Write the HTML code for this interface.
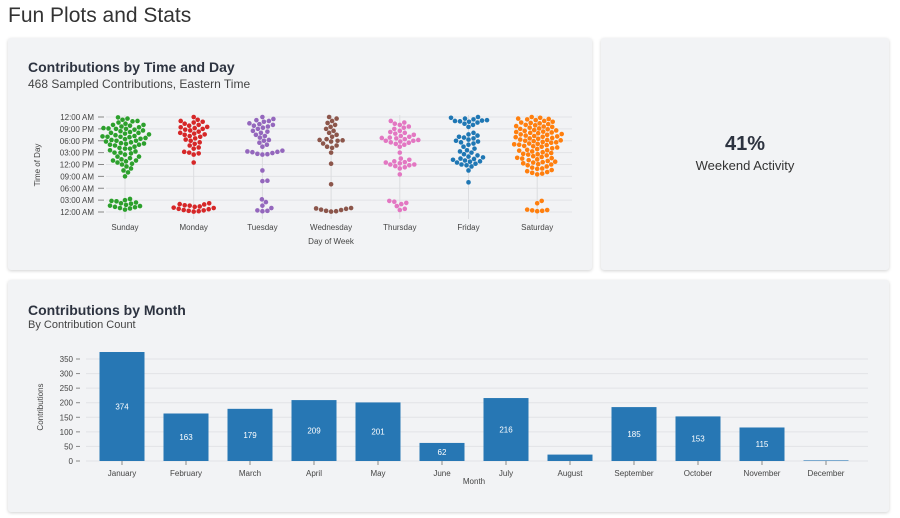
<!DOCTYPE html>
<html><head><meta charset="utf-8"><style>
body{margin:0;width:900px;height:518px;background:#fff;font-family:"Liberation Sans",sans-serif;position:relative;overflow:hidden}
.card{position:absolute;background:#f2f3f5;border-radius:3px;box-shadow:0 1px 3px rgba(0,0,0,.18)}
h1{position:absolute;left:8px;top:4px;margin:0;font-weight:normal;font-size:21px;color:#333}
.t{position:absolute;font-weight:bold;font-size:14px;color:#2d3340}
.s{position:absolute;font-size:12px;color:#444}
svg{position:absolute;left:0;top:0}
text{font-family:"Liberation Sans",sans-serif}
</style></head><body>
<h1>Fun Plots and Stats</h1>
<div class="card" style="left:8px;top:38px;width:584px;height:232px"></div>
<div class="card" style="left:601px;top:38px;width:288px;height:232px"></div>
<div class="card" style="left:8px;top:280px;width:881px;height:232px"></div>
<div class="t" style="left:28px;top:59px">Contributions by Time and Day</div>
<div class="s" style="left:28px;top:77px">468 Sampled Contributions, Eastern Time</div>
<div style="position:absolute;left:601px;width:288px;top:133px;text-align:center;font-weight:bold;font-size:20px;color:#2d3340">41%</div>
<div style="position:absolute;left:601px;width:288px;top:158px;text-align:center;font-size:13px;color:#333">Weekend Activity</div>
<div class="t" style="left:28px;top:302px">Contributions by Month</div>
<div class="s" style="left:28px;top:319px;font-size:11px">By Contribution Count</div>
<svg id="sv" width="900" height="518"></svg>
<script>
const days=["Sunday","Monday","Tuesday","Wednesday","Thursday","Friday","Saturday"];
const dayColors=["#2ca02c","#d62728","#9467bd","#8c564b","#e377c2","#1f77b4","#ff7f0e"];
const timeTicks=["12:00 AM","03:00 AM","06:00 AM","09:00 AM","12:00 PM","03:00 PM","06:00 PM","09:00 PM","12:00 AM"];
const sun=[0.6,0.9,1.2,1.5,1.8,2.1,2.4,2.7,3,3.3,1,1.6,2.2,2.8,1.3,9,10,10.5,11,11.5,12,12.2,12.5,13,13,13.3,13.6,14,14,14.5,15,15,15.3,15.6,16,16,16.2,16.5,16.8,17,17,17.2,17.4,17.6,17.8,18,18,18.2,18.4,18.5,18.7,18.9,19,19,19.2,19.4,19.6,19.8,20,20,20.2,20.4,20.6,20.8,21,21,21.2,21.4,21.6,21.8,22,22,22.3,22.6,22.9,23,23.3,23.6,23.9,17.3,19.1,21.1,12.8,14.8];
const mon=[0.1,0.4,0.7,1,1.3,1.6,1.9,2.2,0.2,0.8,1.4,2,0.5,1.1,1.7,0.3,12.5,14.5,14.8,15,15.2,16,16.3,16.8,17.2,17.6,18,18.3,18.6,19,19.2,19.5,19.8,20,20.3,20.6,21,21.2,21.5,21.8,22,22.3,22.6,23,23.3,24,20.8,21.4,22.8,19.6];
const tue=[0.2,0.3,0.4,1,1.6,2.5,3.2,7.8,7.9,10.5,14.5,14.7,14.9,15.1,15.3,15.5,14.6,15.2,16.5,17,17.5,18,18.2,18.8,19.5,20,20.5,21,21.3,21.6,22,22.4,22.8,23,23.2,23.5,24,22.2,21.8,20.3,19.2];
const wed=[0.2,0.3,0.6,0.9,1,0.1,0.5,0.8,7,12.2,15,16.2,16.5,16.8,17.3,17.8,18,18.1,18.2,18.4,19,19.5,20,20.5,21,21.5,22,22.5,23,23.6,24];
const thu=[0.5,0.8,1.5,2,2.3,2.6,2.8,9.5,11,11.3,11.6,12,12,12.3,12.6,12.8,13.2,13.5,11.8,12.5,15,16.5,17,17.2,17.5,17.8,18,18,18.2,18.4,18.6,18.8,19,19.2,19.5,20,20.2,20.5,21,21.3,21.6,22,22.3,22.6,23,19.8,18.7,17.6];
const fri=[7.5,10.5,11.5,11.8,12,12.2,12.5,12.8,13,13.2,13.5,13.8,14,14.3,14.6,15,15.3,15.6,16,13.4,12.7,17,17.3,17.6,18,18.3,18.6,19,19.3,19.6,20,17.8,18.8,16.5,21.5,22,22.3,22.6,22.8,23,23.2,23.4,23.6,23.8,24,23.1,22.9];
const sat=[0.2,0.3,0.4,0.5,0.6,2.2,2.8,9.5,9.7,9.9,10.1,10.3,10.6,10.9,11.2,11.5,11.8,12,12.1,12.3,12.5,12.7,12.9,13.1,13.3,13.5,13.7,13.9,14.1,14.3,14.5,14.7,14.9,15.1,15.3,15.5,15.7,15.9,16.1,16.3,16.5,16.7,16.9,17,17.1,17.3,17.5,17.7,17.9,18,18.1,18.3,18.5,18.7,18.9,19,19.1,19.3,19.5,19.7,19.9,20,20.1,20.3,20.5,20.7,20.9,21,21.1,21.3,21.5,21.7,21.9,22,22.2,22.4,22.6,22.8,23,23.2,23.4,23.6,23.8,24,17.2,18.2,19.2,20.2,16.6,17.6,18.6,19.6,20.6,21.6,11,12.6,13.6,14.6,15.6,22.5,23.5];
const dayValues=[sun,mon,tue,wed,thu,fri,sat];
const months=["January","February","March","April","May","June","July","August","September","October","November","December"];
const monthCounts=[374,163,179,209,201,62,216,22,185,153,115,2];
const countTicks=[0,50,100,150,200,250,300,350];

const sv=document.getElementById('sv');
function mk(tag,attrs,txt){const e=document.createElementNS("http://www.w3.org/2000/svg",tag);for(const k in attrs)e.setAttribute(k,attrs[k]);if(txt!=null)e.textContent=txt;sv.appendChild(e);return e;}
const yT=h=>212-h*95/24;
const xD=i=>125+i*68.7;
timeTicks.forEach((t,i)=>{const y=yT(i*3);
 const g=mk('line',{x1:106,x2:572,y1:y,y2:y,stroke:'#e2e3e6'});
 mk('line',{x1:98,x2:104,y1:y,y2:y,stroke:'#888'});
 const l=mk('text',{x:94,y:y+3,'text-anchor':'end','font-size':8,fill:'#444'},t);});
days.forEach((d,i)=>{const x=xD(i);
 mk('line',{x1:x,x2:x,y1:115,y2:219,stroke:'#dcdde0'});
 const l=mk('text',{x:x,y:230,'text-anchor':'middle','font-size':8,fill:'#444'},d);
 const r=2.3,placed=[];
 dayValues[i].slice().sort((a,b)=>a-b).forEach(v=>{const y=yT(v);let best=0;
  for(let k=0;k<300;k++){const off=(k%2?1:-1)*Math.ceil(k/2)*0.5;let ok=true;
   for(const p of placed){if((p[0]-off)**2+(p[1]-y)**2<(2*r+0.2)**2){ok=false;break;}}
   if(ok){best=off;break;}}
  placed.push([best,y]);
  const c=mk('circle',{cx:x+best,cy:y,r:r,fill:dayColors[i]});});
});
let t=mk('text',{x:331,y:244,'text-anchor':'middle','font-size':8,fill:'#444'},'Day of Week');
t=mk('text',{x:40,y:165,'text-anchor':'middle','font-size':8,fill:'#444',transform:'rotate(-90 40 165)'},'Time of Day');
const yC=v=>461-v*(102/350);
const bandStart=90,step=64,bw=45;
countTicks.forEach(v=>{const y=yC(v);
 const g=mk('line',{x1:86,x2:868,y1:y,y2:y,stroke:'#e2e3e6'});
 mk('line',{x1:76,x2:80,y1:y,y2:y,stroke:'#888'});
 const l=mk('text',{x:73,y:y+3,'text-anchor':'end','font-size':8,fill:'#444'},v);});
months.forEach((m,i)=>{const cx=bandStart+step*i+step/2,v=monthCounts[i];
 const b=mk('rect',{x:cx-bw/2,y:yC(v),width:bw,height:461-yC(v),fill:'#2777b4'});
 mk('line',{x1:cx,x2:cx,y1:461,y2:465,stroke:'#888'});
 const l=mk('text',{x:cx,y:476,'text-anchor':'middle','font-size':8,fill:'#444'},m);
 if(v>=40){const vl=mk('text',{x:cx,y:(yC(v)+461)/2+3,'text-anchor':'middle','font-size':8,fill:'#fff'},v);}
});
t=mk('text',{x:474,y:484,'text-anchor':'middle','font-size':8,fill:'#444'},'Month');
t=mk('text',{x:43,y:407,'text-anchor':'middle','font-size':8,fill:'#444',transform:'rotate(-90 43 407)'},'Contributions');
</script>
</body></html>
